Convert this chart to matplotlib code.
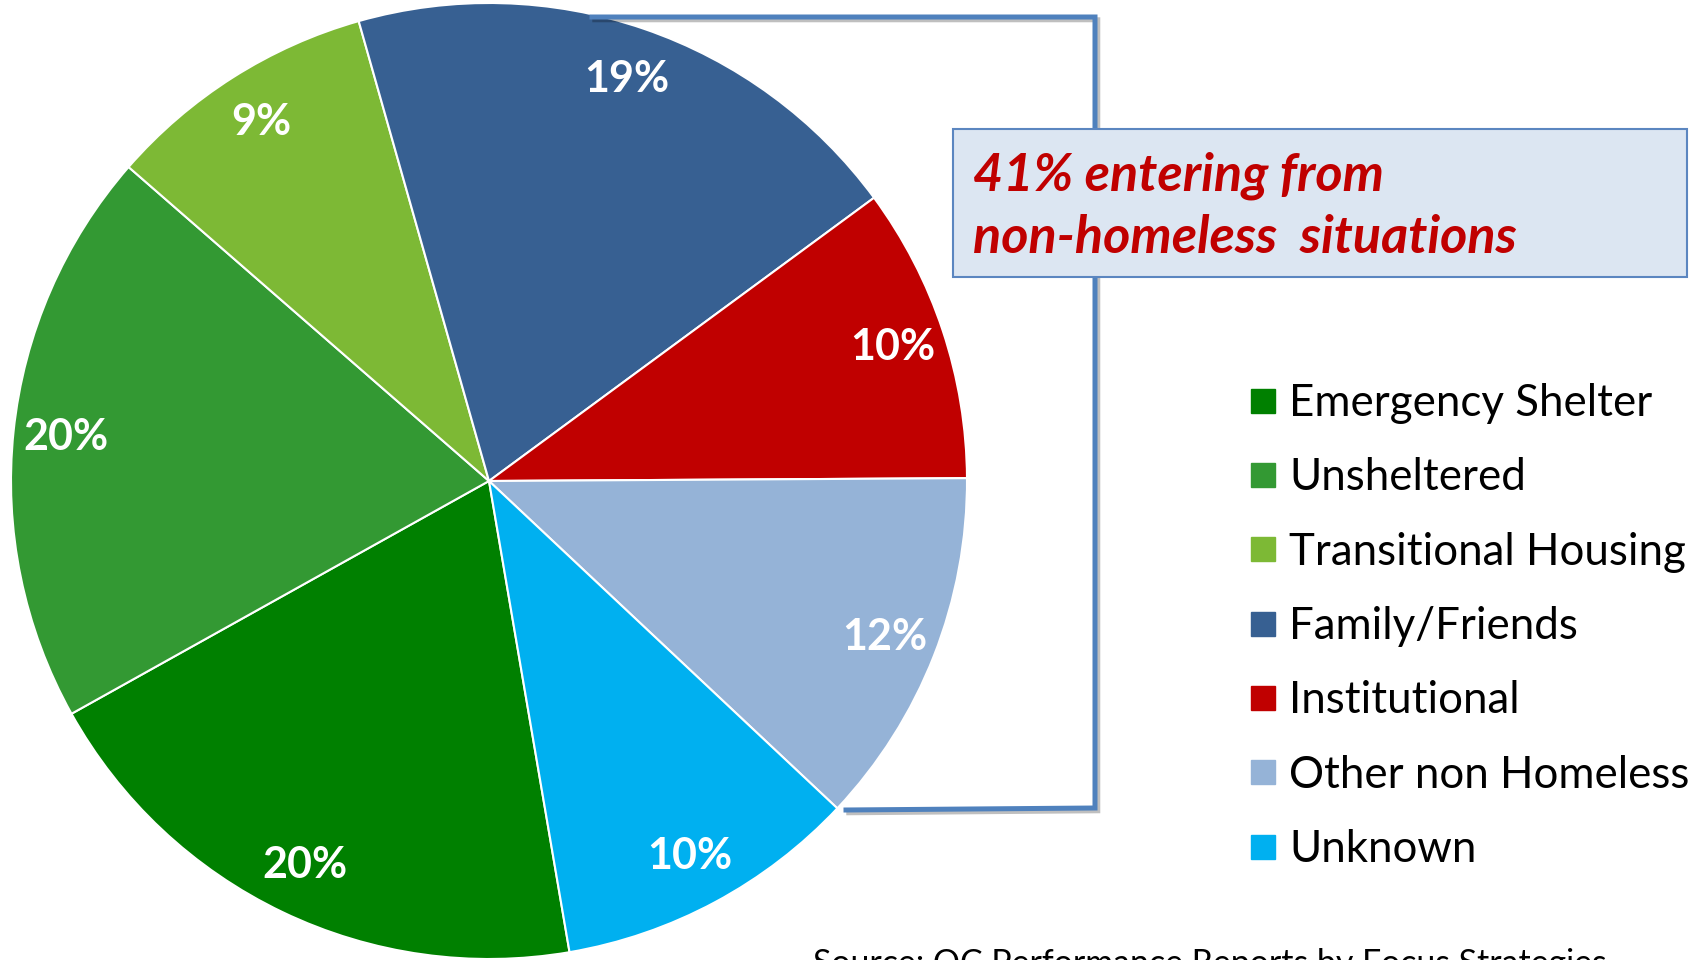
import matplotlib
matplotlib.use("Agg")
import matplotlib.pyplot as plt
import matplotlib.patheffects as pe
from matplotlib.lines import Line2D
from matplotlib.patches import Rectangle

# data (shares; labels show the rounded values)
categories = ["Emergency Shelter", "Unsheltered", "Transitional Housing",
              "Family/Friends", "Institutional", "Other non Homeless", "Unknown"]
shares = [19.6, 19.5, 9.2, 19.3, 10.0, 12.1, 10.3]
colors = ["#008000", "#339933", "#7DB935", "#376092",
          "#C00000", "#95B3D7", "#00B0F0"]
callout_lines = ["41% entering from", "non-homeless  situations"]
source = "Source: OC Performance Reports by Focus Strategies"

W, H = 1704, 960
fig = plt.figure(figsize=(W / 100, H / 100), dpi=100)
ax = fig.add_axes([0, 0, 1, 1])

# pie, drawn in pixel-like data coords
wedges, texts, autotexts = ax.pie(
    shares, colors=colors, startangle=279.7, counterclock=False,
    center=(489, H - 481), radius=478,
    autopct=lambda p: f"{p:.0f}%", pctdistance=0.89,
    wedgeprops=dict(edgecolor="white", linewidth=1.5),
    textprops=dict(color="white", fontsize=31, fontweight="bold", family="Lato"))

ax.set_xlim(0, W)
ax.set_ylim(0, H)
ax.set_aspect("equal")
ax.axis("off")

# bracket round the non-homeless slices
shadow = [pe.SimpleLineShadow(offset=(2, -2), alpha=0.25), pe.Normal()]
ax.plot([592, 1095, 1095, 846], [H - 17, H - 17, H - 808, H - 810],
        color="#4F81BD", lw=3.6, solid_joinstyle="miter",
        path_effects=shadow, zorder=3)

# callout box
box = Rectangle((953, H - 277), 734, 148, facecolor="#DCE6F2",
                edgecolor="#5B86C0", lw=1.5, zorder=4)
ax.add_patch(box)
for i, line in enumerate(callout_lines):
    ax.text(973, H - 190 - 63 * i, line, color="#C00000", fontsize=37.5,
            fontweight="bold", style="italic", family="Lato",
            va="baseline", ha="left", zorder=5)

# legend
handles = [Line2D([], [], marker="s", ls="none", markersize=17.5,
                  markerfacecolor=c, markeredgecolor=c) for c in colors]
ax.legend(handles, categories, loc="upper left",
          bbox_to_anchor=(1248, H - 383), bbox_transform=ax.transData,
          frameon=False, prop=dict(family="Lato", size=31.6),
          labelspacing=0.76, handlelength=0.7, handletextpad=0.24,
          borderpad=0, borderaxespad=0)

# source line, cut by the bottom edge
ax.text(813, H - 974, source, fontsize=24.4, family="Lato",
        va="baseline", ha="left", color="black")

fig.savefig("out.png", dpi=100)
